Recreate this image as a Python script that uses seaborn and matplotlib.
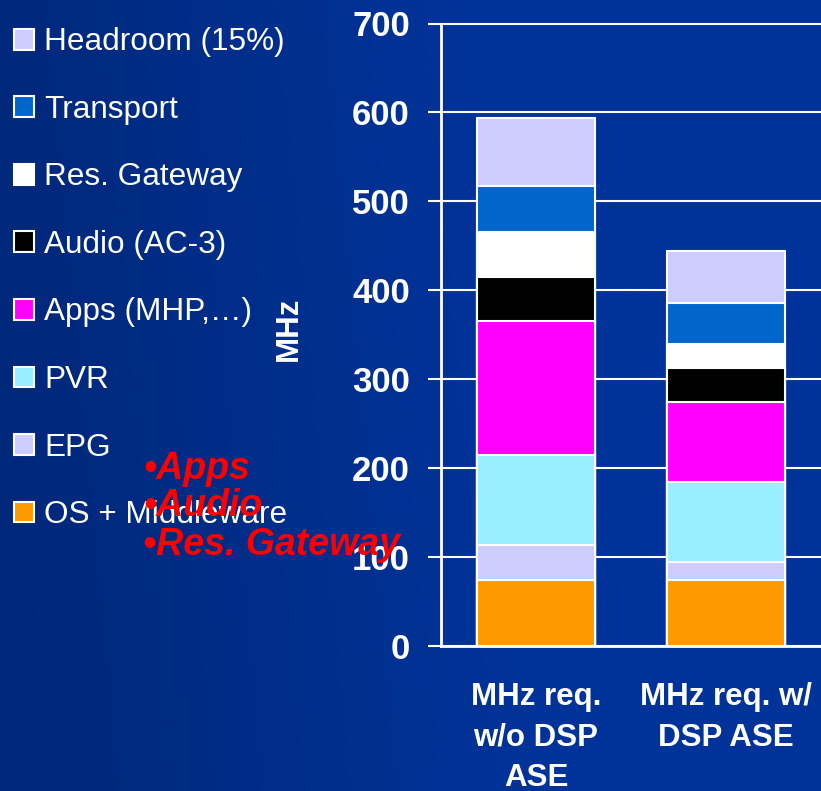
import numpy as np
import matplotlib
matplotlib.use("Agg")
import matplotlib.pyplot as plt
import seaborn as sns
from matplotlib.patches import Patch

# Categories and stacked components (bottom to top), values in MHz
categories = ["MHz req.\nw/o DSP\nASE", "MHz req. w/\nDSP ASE"]
components = ["OS + Middleware", "EPG", "PVR", "Apps (MHP,…)",
              "Audio (AC-3)", "Res. Gateway", "Transport", "Headroom (15%)"]
without_dsp = [74, 40, 101, 151, 49, 51, 51, 77]
with_dsp = [74, 20, 90, 90, 39, 27, 46, 58]
colors = ["#FF9900", "#CCCCFF", "#99EEFF", "#FF00FF",
          "#000000", "#FFFFFF", "#0066CC", "#CCCCFF"]
yticks = [0, 100, 200, 300, 400, 500, 600, 700]
callouts = ["•Apps", "•Audio", "•Res. Gateway"]

sns.set_theme(style="white")
plt.rcParams["font.family"] = ["Liberation Sans", "DejaVu Sans"]

W, H = 821, 791
fig = plt.figure(figsize=(W / 100, H / 100), dpi=100)

# Navy gradient backdrop
bg = fig.add_axes([0, 0, 1, 1], zorder=0)
xx, yy = np.meshgrid(np.linspace(0, 1, 300), np.linspace(1, 0, 300))
t = np.clip(xx / 0.6 + (yy - 0.5) * 0.15, 0, 1)
dark = np.array([0, 40, 122]) / 255
bright = np.array([0, 51, 153]) / 255
img = dark[None, None, :] * (1 - t[..., None]) + bright[None, None, :] * t[..., None]
bg.imshow(img, aspect="auto", extent=[0, 1, 0, 1])
bg.axis("off")

ax = fig.add_axes([441 / W, 1 - 646 / H, 380 / W, (646 - 23.5) / H], zorder=1)
ax.set_facecolor("none")

# Stack by overdrawing cumulative totals from the top layer down
stack = np.cumsum(np.array([without_dsp, with_dsp]), axis=1)
for i in reversed(range(len(components))):
    sns.barplot(x=categories, y=stack[:, i], color=colors[i], saturation=1,
                width=0.62, edgecolor="white", linewidth=1.5, ax=ax)

ax.set_xlim(-0.5, 1.5)
ax.set_ylim(0, 700)
ax.set_yticks(yticks)
ax.set_yticklabels([str(v) for v in yticks], fontsize=25, fontweight="bold",
                   color="white")
ax.set_xticks([0, 1])
ax.set_xticklabels(categories, fontsize=22.5, fontweight="bold", color="white",
                   linespacing=1.46)
ax.set_xticks([-0.5, 0.5], minor=True)
ax.tick_params(axis="x", which="major", length=0, pad=26)
ax.tick_params(axis="x", which="minor", length=8, width=1.5, color="white",
               direction="out")
ax.tick_params(axis="y", which="major", length=9.4, width=1.5, color="white",
               direction="out", pad=13, left=True)
ax.set_xlabel("")
ax.set_ylabel("MHz", fontsize=22.5, fontweight="bold", color="white")
ax.yaxis.set_label_coords(-0.36, 0.509)

ax.set_axisbelow(True)
ax.yaxis.grid(True, color="white", linewidth=1.5)
ax.xaxis.grid(False)
for side in ["top", "right"]:
    ax.spines[side].set_visible(False)
for side in ["left", "bottom"]:
    ax.spines[side].set_color("white")
    ax.spines[side].set_linewidth(2)
for gl in ax.get_ygridlines():
    gl.set_clip_on(False)

# Legend, top component first
handles = [Patch(facecolor=colors[i], edgecolor="white", linewidth=1.5)
           for i in reversed(range(len(components)))]
labels = list(reversed(components))
fig.legend(handles, labels, loc="upper left", bbox_to_anchor=(14 / W, 1 - 27.4 / H),
           frameon=False, fontsize=22.7, labelcolor="white",
           handlelength=0.635, handleheight=0.635, handletextpad=0.32,
           labelspacing=1.19, borderpad=0, borderaxespad=0)

# Red callout list
for text, base in zip(callouts, [479, 516.5, 555]):
    fig.text(143 / W, 1 - base / H, text, color="#FF0000", fontsize=27,
             fontweight="bold", fontstyle="italic", ha="left", va="baseline",
             zorder=6)

fig.savefig("out.png", dpi=100)
